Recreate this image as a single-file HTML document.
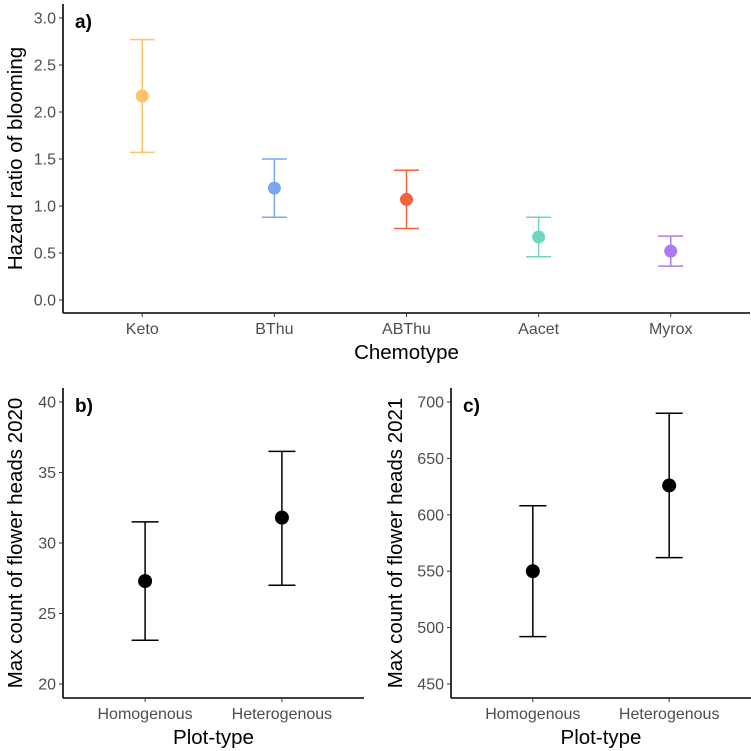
<!DOCTYPE html>
<html><head><meta charset="utf-8"><style>
body{margin:0;background:#fff;}
svg{display:block;font-family:"Liberation Sans",Arial,sans-serif;}
.tk{fill:#4d4d4d;font-size:16px;}
.ti{fill:#000;font-size:20.5px;}
.lb{fill:#000;font-size:19px;font-weight:bold;}
</style></head><body>
<svg id="chart" width="751" height="751" viewBox="0 0 751 751" xmlns="http://www.w3.org/2000/svg"></svg>
<script>
const catsA=["Keto","BThu","ABThu","Aacet","Myrox"];
const meanA=[2.17,1.19,1.07,0.67,0.52];
const lowA=[1.57,0.88,0.76,0.46,0.36];
const highA=[2.77,1.50,1.38,0.88,0.68];
const colorsA=["#FDC46A","#7BA7F0","#F4623D","#6FD6C0","#A97CF0"];
const ticksA=[0,0.5,1,1.5,2,2.5,3];
const catsB=["Homogenous","Heterogenous"];
const meanB=[27.3,31.8];
const lowB=[23.1,27.0];
const highB=[31.5,36.5];
const ticksB=[20,25,30,35,40];
const catsC=["Homogenous","Heterogenous"];
const meanC=[550,626];
const lowC=[492,562];
const highC=[608,690];
const ticksC=[450,500,550,600,650,700];

const svg=document.getElementById('chart');
const NS="http://www.w3.org/2000/svg";
function mk(t,a,p){const e=document.createElementNS(NS,t);for(const k in a)e.setAttribute(k,a[k]);(p||svg).appendChild(e);return e;}

function panel(o){
  const g=mk('g',{});
  
  
  const yy=v=>o.y0+(v-o.v0)/(o.v1-o.v0)*(o.y1-o.y0);
  const n=o.cats.length;
  const step=(o.xr-o.xl)/(n-1+1.2);
  const x=i=>o.xl+step*(0.6+i);
  const ya=mk('line',{x1:o.xl,y1:o.top,x2:o.xl,y2:o.xb,stroke:'#000','stroke-width':1.6},g);
  
  const xa=mk('line',{x1:o.xl,y1:o.xb,x2:o.xr,y2:o.xb,stroke:'#000','stroke-width':1.6},g);
  
  o.ticks.forEach(t=>{
    const p=yy(t);
    mk('line',{x1:o.xl-4,y1:p,x2:o.xl,y2:p,stroke:'#333','stroke-width':1},g);
    const tx=mk('text',{x:o.xl-7,y:p+5.5,'text-anchor':'end',class:'tk'},g);
    
    tx.textContent=o.fmt(t);
  });
  o.cats.forEach((c,i)=>{
    const px=x(i);
    mk('line',{x1:px,y1:o.xb,x2:px,y2:o.xb+4,stroke:'#333','stroke-width':1},g);
    const tx=mk('text',{x:px,y:o.xb+21,'text-anchor':'middle',class:'tk'},g);
    
    tx.textContent=c;
    const col=o.colors?o.colors[i]:'#000';
    const eb=mk('g',{stroke:col,'stroke-width':1.5,fill:'none'},g);
    
    
    mk('line',{x1:px,y1:yy(o.low[i]),x2:px,y2:yy(o.high[i])},eb);
    mk('line',{x1:px-o.cap,y1:yy(o.low[i]),x2:px+o.cap,y2:yy(o.low[i])},eb);
    mk('line',{x1:px-o.cap,y1:yy(o.high[i]),x2:px+o.cap,y2:yy(o.high[i])},eb);
    const pt=mk('circle',{cx:px,cy:yy(o.mean[i]),r:o.r,fill:col},g);
    
    
  });
  const xt=mk('text',{x:(o.xl+o.xr)/2,y:o.xb+46,'text-anchor':'middle',class:'ti'},g);
  
  xt.textContent=o.xtitle;
  const cy=(o.top+o.xb)/2;
  const yt=mk('text',{x:o.ytx,y:cy,'text-anchor':'middle',class:'ti',transform:'rotate(-90 '+o.ytx+' '+cy+')'},g);
  
  yt.textContent=o.ytitle;
  const lb=mk('text',{x:o.xl+12,y:o.top+24,class:'lb'},g);
  
  lb.textContent=o.label;
}
panel({name:'panel-a',cats:catsA,mean:meanA,low:lowA,high:highA,colors:colorsA,ticks:ticksA,
  v0:0,v1:3,y0:300,y1:18,xl:63,xr:750,xb:313,top:4,cap:12.5,r:6.5,fmt:t=>t.toFixed(1),
  xtitle:'Chemotype',ytitle:'Hazard ratio of blooming',ytx:22,label:'a)'});
panel({name:'panel-b',cats:catsB,mean:meanB,low:lowB,high:highB,ticks:ticksB,
  v0:20,v1:40,y0:684,y1:402,xl:63,xr:364,xb:698,top:388,cap:13.5,r:7,fmt:t=>String(t),
  xtitle:'Plot-type',ytitle:'Max count of flower heads 2020',ytx:22,label:'b)'});
panel({name:'panel-c',cats:catsC,mean:meanC,low:lowC,high:highC,ticks:ticksC,
  v0:450,v1:700,y0:684,y1:402,xl:451,xr:751,xb:698,top:388,cap:13.5,r:7,fmt:t=>String(t),
  xtitle:'Plot-type',ytitle:'Max count of flower heads 2021',ytx:402,label:'c)'});
</script>
</body></html>
